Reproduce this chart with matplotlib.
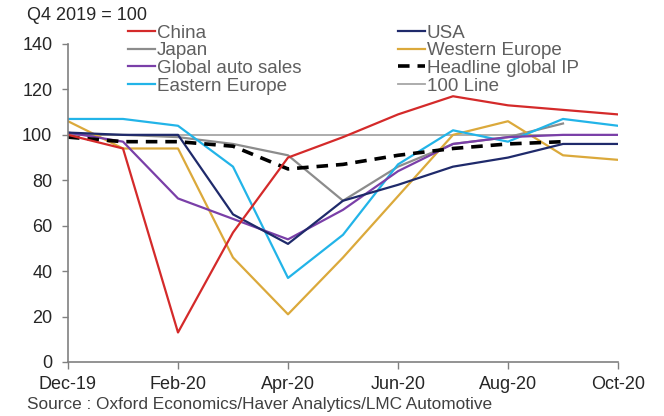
import numpy as np
import matplotlib
matplotlib.use("Agg")
import matplotlib.pyplot as plt

plt.rcParams['font.family'] = ['Liberation Sans', 'DejaVu Sans']

months = ['Dec-19', 'Jan-20', 'Feb-20', 'Mar-20', 'Apr-20', 'May-20',
          'Jun-20', 'Jul-20', 'Aug-20', 'Sep-20', 'Oct-20']
china = [100, 94, 13, 57, 90, 99, 109, 117, 113, 111, 109]
usa = [101, 100, 100, 65, 52, 71, 78, 86, 90, 96, 96]
japan = [100, 100, 99, 96, 91, 71, 86, 96, 99, 105, np.nan]
western_europe = [106, 94, 94, 46, 21, 46, 73, 100, 106, 91, 89]
global_auto = [101, 97, 72, 63, 54, 67, 84, 96, 99, 100, 100]
eastern_europe = [107, 107, 104, 86, 37, 56, 87, 102, 97, 107, 104]
headline_ip = [99, 97, 97, 95, 85, 87, 91, 94, 96, 97, np.nan]
line_100 = [100] * len(months)

x = np.arange(len(months))

fig = plt.figure(figsize=(6.64, 4.16), dpi=100)
ax = fig.add_axes([68/664, 1 - 362/416, 550/664, (362-44)/416])

h100, = ax.plot(x, line_100, color='#a6a6a6', lw=1.3, label='100 Line')
hjp, = ax.plot(x, japan, color='#8c8c8c', lw=1.6, label='Japan')
hwe, = ax.plot(x, western_europe, color='#dba93b', lw=1.6, label='Western Europe')
hee, = ax.plot(x, eastern_europe, color='#22b4e8', lw=1.6, label='Eastern Europe')
hga, = ax.plot(x, global_auto, color='#7a3fa8', lw=1.6, label='Global auto sales')
hus, = ax.plot(x, usa, color='#1f2a6b', lw=1.6, label='USA')
hip, = ax.plot(x, headline_ip, color='black', lw=2.6, ls=(0, (3.2, 2.2)), label='Headline global IP')
hcn, = ax.plot(x, china, color='#d42a2a', lw=1.6, label='China')

ax.set_xlim(0, 10)
ax.set_ylim(0, 140)
ax.set_xticks(x[::2])
ax.set_xticklabels(months[::2], fontsize=13, color='#262626')
ax.set_yticks(np.arange(0, 141, 20))
ax.tick_params(axis='y', labelsize=13, colors='#262626', length=4.3, width=1, color='#808080', pad=7)
ax.tick_params(axis='x', length=5, width=1, color='#808080', pad=5)
for s in ['top', 'right']:
    ax.spines[s].set_visible(False)
for s in ['left', 'bottom']:
    ax.spines[s].set_color('#808080')
    ax.spines[s].set_linewidth(1.2)

leg_kw = dict(frameon=False, loc='upper left', fontsize=13.5,
              handlelength=1.44, handletextpad=0.1, labelspacing=0.03,
              borderpad=0, borderaxespad=0)
left_handles = [hcn, hjp, hga, hee]
right_handles = [hus, hwe, hip, h100]
leg1 = fig.legend(handles=left_handles, labels=[h.get_label() for h in left_handles],
                  bbox_to_anchor=(128/664, 1 - 24.5/416), **leg_kw)
leg2 = fig.legend(handles=right_handles, labels=[h.get_label() for h in right_handles],
                  bbox_to_anchor=(398/664, 1 - 24.5/416), **leg_kw)
for lg in (leg1, leg2):
    for t in lg.get_texts():
        t.set_color('#5f5f5f')

fig.text(27/664, 1 - 15/416, 'Q4 2019 = 100', fontsize=13, color='#262626', va='center', ha='left')
fig.text(27/664, 1 - 405/416, 'Source : Oxford Economics/Haver Analytics/LMC Automotive',
         fontsize=12.4, color='#404040', va='center', ha='left')

fig.savefig('out.png', dpi=100)
